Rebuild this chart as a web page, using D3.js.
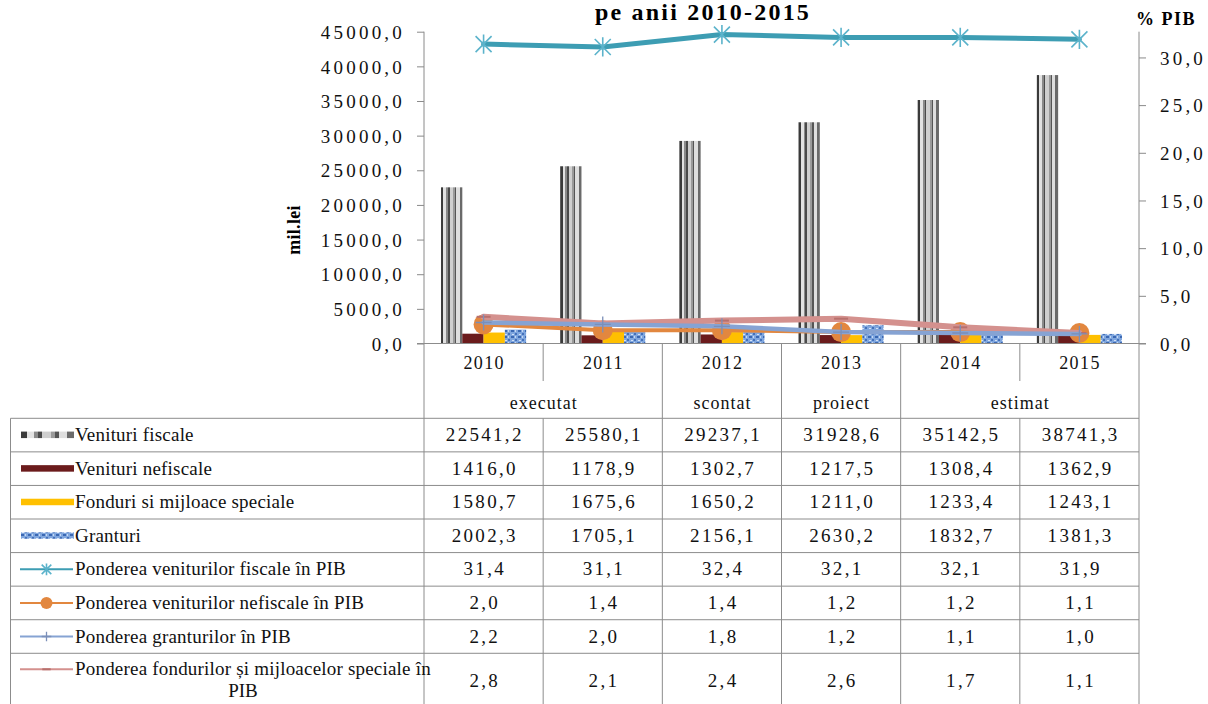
<!DOCTYPE html>
<html>
<head>
<meta charset="utf-8">
<script src="https://cdn.jsdelivr.net/npm/d3@7/dist/d3.min.js"></script>
<style>
  html, body { margin: 0; padding: 0; background: #fff; }
  svg, svg text { font-family: "Liberation Serif", "Times New Roman", serif; }
  svg { display: block; }
</style>
</head>
<body>
<svg id="chart" width="1208" height="704"></svg>
<script>
// ---- data ----
const categories = ["2010", "2011", "2012", "2013", "2014", "2015"];
const periodLabels = ["executat", "scontat", "proiect", "estimat"];
const periodSpans = [2, 1, 1, 2];

const venituriFiscale   = [22541.2, 25580.1, 29237.1, 31928.6, 35142.5, 38741.3];
const venituriNefiscale = [1416.0, 1178.9, 1302.7, 1217.5, 1308.4, 1362.9];
const fonduriSpeciale   = [1580.7, 1675.6, 1650.2, 1211.0, 1233.4, 1243.1];
const granturi          = [2002.3, 1705.1, 2156.1, 2630.2, 1832.7, 1381.3];

const pondFiscale   = [31.4, 31.1, 32.4, 32.1, 32.1, 31.9];
const pondNefiscale = [2.0, 1.4, 1.4, 1.2, 1.2, 1.1];
const pondGranturi  = [2.2, 2.0, 1.8, 1.2, 1.1, 1.0];
const pondFonduri   = [2.8, 2.1, 2.4, 2.6, 1.7, 1.1];

const leftTicks  = [0, 5000, 10000, 15000, 20000, 25000, 30000, 35000, 40000, 45000];
const rightTicks = [0, 5, 10, 15, 20, 25, 30];

const barSeries = [
  { name: "Venituri fiscale", values: venituriFiscale, fill: "url(#stripesGray)" },
  { name: "Venituri nefiscale", values: venituriNefiscale, fill: "#6b1b1c" },
  { name: "Fonduri si mijloace speciale", values: fonduriSpeciale, fill: "#ffc000" },
  { name: "Granturi", values: granturi, fill: "url(#grantPattern)" }
];
const lineSeries = {
  fiscale:   { name: "Ponderea veniturilor fiscale în PIB", values: pondFiscale, color: "#3d9db3", width: 5, marker: "star" },
  nefiscale: { name: "Ponderea veniturilor nefiscale în PIB", values: pondNefiscale, color: "#e2873f", width: 4, marker: "circle" },
  granturi:  { name: "Ponderea granturilor în PIB", values: pondGranturi, color: "#86a3d3", width: 4.5, marker: "plus" },
  fonduri:   { name: "Ponderea fondurilor și mijloacelor speciale în", name2: "PIB", values: pondFonduri, color: "#d4918e", width: 6, marker: "dash" }
};

const fmt = v => d3.format(".1f")(v).replace(".", ",");
const FONT = '"Liberation Serif", "Times New Roman", serif';

// ---- layout ----
const plotLeft = 424, plotRight = 1139, plotTop = 31.7, plotBottom = 343.5;
const tableLeft = 10.5;

const svg = d3.select("#chart");
svg.append("rect").attr("width", 1208).attr("height", 704).attr("fill", "#fff");

// ---- fills ----
const defs = svg.append("defs");
const g1 = defs.append("linearGradient").attr("id", "stripesGray")
  .attr("x1", 0).attr("x2", 1).attr("y1", 0).attr("y2", 0);
[
  [0, "#3a3a3a"], [0.11, "#3a3a3a"], [0.11, "#e2e2e2"], [0.24, "#e2e2e2"],
  [0.24, "#8a8a8a"], [0.32, "#8a8a8a"], [0.32, "#4a4a4a"], [0.40, "#4a4a4a"],
  [0.40, "#cfcfcf"], [0.56, "#cfcfcf"], [0.56, "#9a9a9a"], [0.65, "#9a9a9a"],
  [0.65, "#555555"], [0.71, "#555555"], [0.71, "#dedede"], [0.87, "#dedede"],
  [0.87, "#6a6a6a"], [1, "#6a6a6a"]
].forEach(([o, c]) => g1.append("stop").attr("offset", o).attr("stop-color", c));

const gp = defs.append("pattern").attr("id", "grantPattern")
  .attr("patternUnits", "userSpaceOnUse").attr("width", 7).attr("height", 6);
gp.append("rect").attr("width", 7).attr("height", 6).attr("fill", "#7fa6de");
gp.append("rect").attr("x", 0).attr("y", 0).attr("width", 3).attr("height", 2).attr("fill", "#3b68b3");
gp.append("rect").attr("x", 4).attr("y", 3).attr("width", 2).attr("height", 2).attr("fill", "#4571ba");
gp.append("rect").attr("x", 4).attr("y", 0).attr("width", 1).attr("height", 2).attr("fill", "#c7d9f3");
gp.append("rect").attr("x", 1).attr("y", 4).attr("width", 2).attr("height", 1).attr("fill", "#d3e1f6");

// ---- scales ----
const x = d3.scaleBand().domain(categories).range([plotLeft, plotRight]).paddingInner(0).paddingOuter(0);
const xInner = d3.scaleBand().domain(barSeries.map(s => s.name)).range([0, x.bandwidth()])
  .paddingInner(0).paddingOuter(0.8);
const yLeft = d3.scaleLinear().domain([0, 45000]).range([plotBottom, plotTop]);
const yRight = d3.scaleLinear().domain([0, 32.7]).range([plotBottom, plotTop]);

// ---- title ----
svg.append("text").attr("x", 703).attr("y", 20).attr("text-anchor", "middle")
  .attr("font-family", FONT)
  .attr("font-size", 24).attr("font-weight", "bold").attr("letter-spacing", 2.2)
  .text("pe anii 2010-2015");

// ---- axes ----
const axisColor = "#8a8a8a";
const leftAxis = svg.append("g").attr("transform", `translate(${plotLeft},0)`)
  .call(d3.axisLeft(yLeft).tickValues(leftTicks).tickSize(7).tickPadding(14).tickFormat(fmt));
const rightAxis = svg.append("g").attr("transform", `translate(${plotRight},0)`)
  .call(d3.axisRight(yRight).tickValues(rightTicks).tickSize(7).tickPadding(14).tickFormat(fmt));
[leftAxis, rightAxis].forEach(a => {
  a.attr("font-family", FONT);
  a.select(".domain").remove();
  a.selectAll(".tick line").attr("stroke", axisColor);
  a.selectAll(".tick text").attr("font-family", FONT).attr("font-size", 19)
    .attr("fill", "#111").attr("letter-spacing", 3.2).attr("dy", "0.35em");
});
leftAxis.append("line").attr("y1", plotTop).attr("y2", plotBottom).attr("stroke", axisColor);
rightAxis.append("line").attr("y1", plotTop).attr("y2", plotBottom).attr("stroke", axisColor);
leftAxis.selectAll(".tick text").attr("x", -19);
rightAxis.selectAll(".tick text").attr("x", 21);

svg.append("text").attr("transform", `translate(300,230) rotate(-90)`)
  .attr("font-family", FONT)
  .attr("text-anchor", "middle").attr("font-size", 18).attr("font-weight", "bold")
  .attr("letter-spacing", 0.3).text("mil.lei");
svg.append("text").attr("x", 1136).attr("y", 25).attr("font-size", 18).attr("font-weight", "bold")
  .attr("font-family", FONT)
  .attr("letter-spacing", 1.5).text("% PIB");

// ---- bars ----
const barsG = svg.append("g");
barSeries.forEach(s => {
  barsG.append("g").selectAll("rect").data(s.values).join("rect")
    .attr("x", (d, i) => x(categories[i]) + xInner(s.name))
    .attr("width", xInner.bandwidth())
    .attr("y", d => yLeft(d))
    .attr("height", d => yLeft(0) - yLeft(d))
    .attr("fill", s.fill);
});

// ---- markers ----
function drawMarker(g, type, cx, cy, color, small) {
  const k = small ? 0.6 : 1;
  if (type === "star") {
    const r = 8 * k;
    const p = `M${cx - r},${cy - r}L${cx + r},${cy + r}M${cx - r},${cy + r}L${cx + r},${cy - r}M${cx},${cy - r * 1.2}L${cx},${cy + r * 1.2}`;
    g.append("path").attr("d", p).attr("stroke", "#5bb3cb").attr("stroke-width", 1.6).attr("fill", "none");
  } else if (type === "circle") {
    g.append("circle").attr("cx", cx).attr("cy", cy).attr("r", 10 * k).attr("fill", color);
  } else if (type === "plus") {
    const r = 8 * k;
    g.append("path").attr("d", `M${cx},${cy - r}L${cx},${cy + r}M${cx - r},${cy}L${cx + r},${cy}`)
      .attr("stroke", "#7b8fb8").attr("stroke-width", 1.3);
  } else if (type === "dash") {
    const r = 7 * k;
    g.append("path").attr("d", `M${cx - r},${cy}L${cx + r},${cy}`)
      .attr("stroke", "#b8706d").attr("stroke-width", 2);
  }
}

// ---- lines (secondary axis) ----
const lineGen = d3.line().x((d, i) => x(categories[i]) + x.bandwidth() / 2).y(d => yRight(d));
function drawLine(s) {
  const g = svg.append("g");
  g.append("path").datum(s.values).attr("d", lineGen).attr("fill", "none")
    .attr("stroke", s.color).attr("stroke-width", s.width)
    .attr("stroke-linejoin", "round").attr("stroke-linecap", "round");
  s.values.forEach((v, i) => drawMarker(g, s.marker, x(categories[i]) + x.bandwidth() / 2, yRight(v), s.color, false));
}
drawLine(lineSeries.fiscale);
drawLine(lineSeries.nefiscale);
drawLine(lineSeries.fonduri);
drawLine(lineSeries.granturi);

// ---- data table ----
const gridColor = "#8c8c8c";
const tbl = svg.append("g").attr("stroke", gridColor).attr("stroke-width", 1);
const colEdges = categories.map(c => x(c)).concat([plotRight]);
const headerMid = 381;
const rowTop = 418.3, rowH = 33.57;
const rowCount = 8;
const rowEdges = d3.range(rowCount).map(i => rowTop + i * rowH);
const tableBottom = 708;

// period boundaries
let acc = 0;
const periodEdges = [0];
periodSpans.forEach(s => { acc += s; periodEdges.push(acc); });

// vertical lines in header
colEdges.forEach((cx, i) => {
  const full = periodEdges.includes(i);
  tbl.append("line").attr("x1", cx).attr("x2", cx).attr("y1", plotBottom)
    .attr("y2", full ? tableBottom : headerMid);
  if (!full) tbl.append("line").attr("x1", cx).attr("x2", cx).attr("y1", rowTop).attr("y2", tableBottom);
});
// horizontal rows
rowEdges.forEach(ry => tbl.append("line").attr("x1", tableLeft).attr("x2", plotRight).attr("y1", ry).attr("y2", ry));
tbl.append("line").attr("x1", tableLeft).attr("x2", tableLeft).attr("y1", rowTop).attr("y2", tableBottom);
tbl.append("line").attr("x1", plotLeft - 7).attr("x2", plotRight + 7).attr("y1", plotBottom).attr("y2", plotBottom);

// header texts
const textG = svg.append("g").attr("fill", "#111").attr("font-family", FONT);
categories.forEach(c => {
  textG.append("text").attr("x", x(c) + x.bandwidth() / 2 + 0.6).attr("y", 369)
    .attr("text-anchor", "middle").attr("font-size", 18).attr("letter-spacing", 1.4).text(c);
});
periodLabels.forEach((lab, i) => {
  const x0 = colEdges[periodEdges[i]], x1 = colEdges[periodEdges[i + 1]];
  textG.append("text").attr("x", (x0 + x1) / 2 + 0.5).attr("y", 409)
    .attr("text-anchor", "middle").attr("font-size", 18).attr("letter-spacing", 1).text(lab);
});

// row labels with legend keys
const rows = [
  { s: barSeries[0], kind: "bar" },
  { s: barSeries[1], kind: "bar" },
  { s: barSeries[2], kind: "bar" },
  { s: barSeries[3], kind: "bar" },
  { s: lineSeries.fiscale, kind: "line" },
  { s: lineSeries.nefiscale, kind: "line" },
  { s: lineSeries.granturi, kind: "line" },
  { s: lineSeries.fonduri, kind: "line" }
];
rows.forEach((r, i) => {
  const top = rowEdges[i];
  const last = i === rows.length - 1;
  const cy = last ? top + 16 : top + rowH / 2;
  if (r.kind === "bar") {
    svg.append("rect").attr("x", 21).attr("y", cy - 3.5).attr("width", 53).attr("height", 6.5)
      .attr("fill", r.s.fill);
  } else {
    const g = svg.append("g");
    g.append("line").attr("x1", 20).attr("x2", 73).attr("y1", cy).attr("y2", cy)
      .attr("stroke", r.s.color).attr("stroke-width", 2);
    drawMarker(g, r.s.marker, 46.5, cy, r.s.color, true);
  }
  textG.append("text").attr("x", 75).attr("y", cy + 6).attr("font-size", 19)
    .attr("letter-spacing", 0.2).text(r.s.name);
  if (last) {
    textG.append("text").attr("x", 243).attr("y", cy + 28).attr("text-anchor", "middle")
      .attr("font-size", 19).text(r.s.name2);
  }
  const valMid = last ? top + 28 : top + rowH / 2;
  r.s.values.forEach((v, j) => {
    textG.append("text").attr("x", x(categories[j]) + x.bandwidth() / 2 + 1.2).attr("y", valMid + 6)
      .attr("text-anchor", "middle").attr("font-size", 19).attr("letter-spacing", 2.3).text(fmt(v));
  });
});
</script>
</body>
</html>
